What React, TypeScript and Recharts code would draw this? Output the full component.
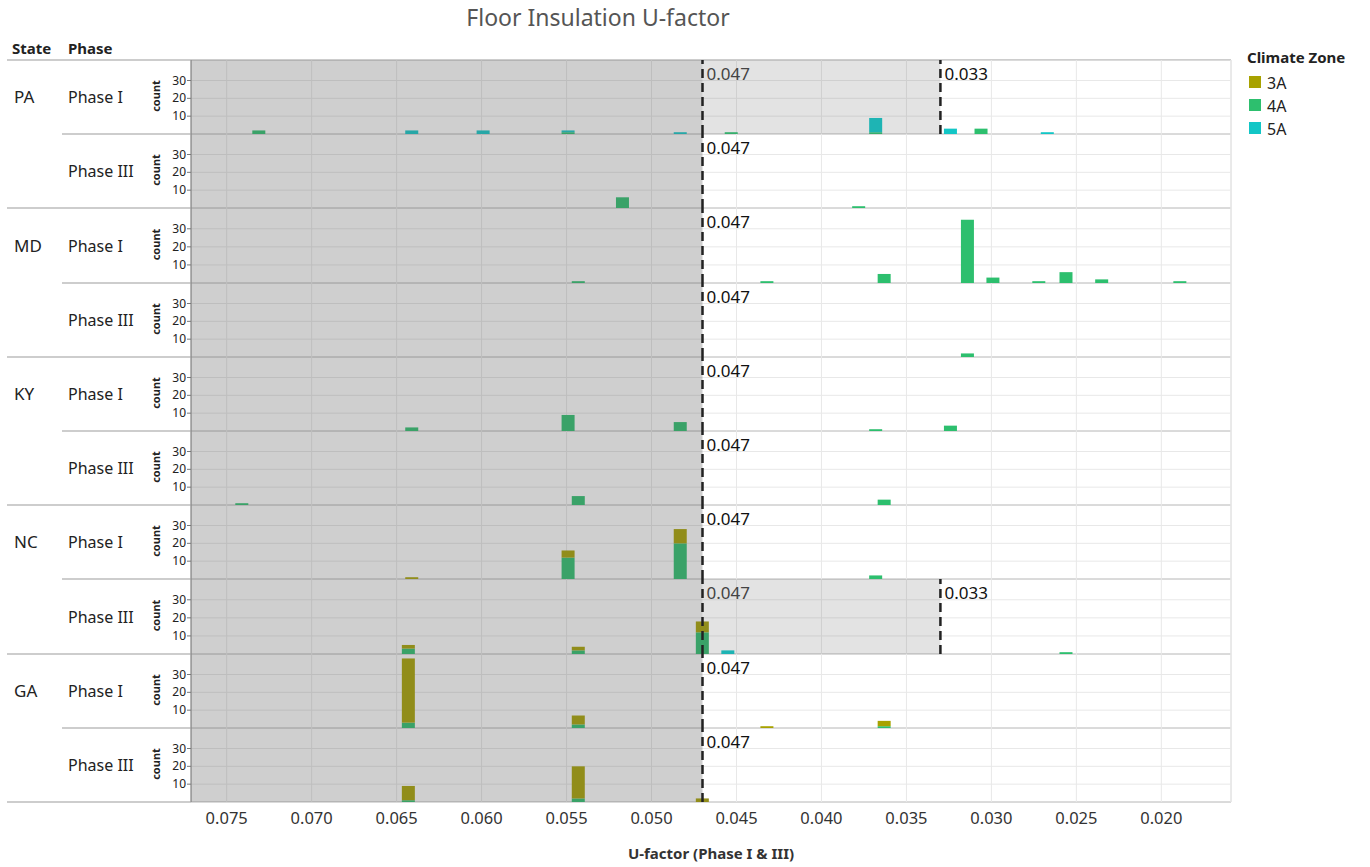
import React from "react";
import {
  BarChart,
  Bar,
  XAxis,
  YAxis,
  CartesianGrid,
  ReferenceArea,
  ReferenceLine,
} from "recharts";

type Row = { u: number; z3A?: number; z4A?: number; z5A?: number };

// counts per U-factor bin
const paPhase1: Row[] = [
  { u: 0.0731, z4A: 2 },
  { u: 0.0641, z5A: 2 },
  { u: 0.0599, z5A: 2 },
  { u: 0.0549, z4A: 1, z5A: 1 },
  { u: 0.0483, z5A: 1 },
  { u: 0.0453, z4A: 1 },
  { u: 0.0368, z4A: 1, z5A: 8 },
  { u: 0.0324, z5A: 3 },
  { u: 0.0306, z4A: 3 },
  { u: 0.0267, z5A: 1 },
];
const paPhase3: Row[] = [
  { u: 0.0517, z4A: 6 },
  { u: 0.0378, z4A: 1 },
];
const mdPhase1: Row[] = [
  { u: 0.0543, z4A: 1 },
  { u: 0.0432, z4A: 1 },
  { u: 0.0363, z4A: 5 },
  { u: 0.0314, z4A: 35 },
  { u: 0.0299, z4A: 3 },
  { u: 0.0272, z4A: 1 },
  { u: 0.0256, z4A: 6 },
  { u: 0.0235, z4A: 2 },
  { u: 0.0189, z4A: 1 },
];
const mdPhase3: Row[] = [{ u: 0.0314, z4A: 2 }];
const kyPhase1: Row[] = [
  { u: 0.0641, z4A: 2 },
  { u: 0.0549, z4A: 9 },
  { u: 0.0483, z4A: 5 },
  { u: 0.0368, z4A: 1 },
  { u: 0.0324, z4A: 3 },
];
const kyPhase3: Row[] = [
  { u: 0.0741, z4A: 1 },
  { u: 0.0543, z4A: 5 },
  { u: 0.0363, z4A: 3 },
];
const ncPhase1: Row[] = [
  { u: 0.0641, z3A: 1 },
  { u: 0.0549, z3A: 4, z4A: 12 },
  { u: 0.0483, z3A: 8, z4A: 20 },
  { u: 0.0368, z4A: 2 },
];
const ncPhase3: Row[] = [
  { u: 0.0643, z3A: 2, z4A: 3 },
  { u: 0.0543, z3A: 2, z4A: 2 },
  { u: 0.047, z3A: 6, z4A: 12 },
  { u: 0.0455, z5A: 2 },
  { u: 0.0256, z4A: 1 },
];
const gaPhase1: Row[] = [
  { u: 0.0643, z3A: 36, z4A: 3 },
  { u: 0.0543, z3A: 5, z4A: 2 },
  { u: 0.0432, z3A: 1 },
  { u: 0.0363, z3A: 3, z4A: 1 },
];
const gaPhase3: Row[] = [
  { u: 0.0643, z3A: 8, z4A: 1 },
  { u: 0.0543, z3A: 18, z4A: 2 },
  { u: 0.047, z3A: 2 },
];

const states = ["PA", "MD", "KY", "NC", "GA"];
const phases = ["Phase I", "Phase III"];
const panelData = [
  paPhase1, paPhase3, mdPhase1, mdPhase3, kyPhase1,
  kyPhase3, ncPhase1, ncPhase3, gaPhase1, gaPhase3,
];
const bandPanels = [0, 7]; // panels with the 0.047-0.033 band

const xTicks = [0.075, 0.07, 0.065, 0.06, 0.055, 0.05, 0.045, 0.04, 0.035, 0.03, 0.025, 0.02];
const yTicks = [10, 20, 30];
const zones = [
  { key: "z4A", name: "4A", color: "#2dbf6e" },
  { key: "z3A", name: "3A", color: "#a8a200" },
  { key: "z5A", name: "5A", color: "#12c6c6" },
];
const legendOrder = ["3A", "4A", "5A"];

const X_DOMAIN: [number, number] = [0.0159, 0.0771];
const Y_DOMAIN: [number, number] = [0, 41.5];
const TOP = 60;
const BOTTOM = 802;
const AXIS_H = 62;
const CHART_LEFT = 150;
const CHART_W = 1082;
const PLOT_RIGHT = 1231;
const FONT = "Noto Sans, Open Sans, sans-serif";

// whole-pixel panel edges
const edges = Array.from({ length: panelData.length + 1 }, (_, i) =>
  Math.round(TOP + (i * (BOTTOM - TOP)) / panelData.length)
);

const MARGIN = { top: 0, right: 1, bottom: 0, left: 0 };
const X_TICK = { fontSize: 16.5, fill: "#333", fontFamily: FONT };
const AXIS_STROKE = { stroke: "#777" };
const X_LABEL = {
  value: "U-factor (Phase I & III)",
  position: "insideBottom" as const,
  offset: 5,
  style: { fontSize: 15, fontWeight: 700, fill: "#333", fontFamily: FONT },
};
const fmtX = (v: number) => v.toFixed(3);

function CountTick(props: any) {
  const { x, y, payload } = props;
  return (
    <text x={x} y={y} dy={4} textAnchor="end" fontSize={12} fill="#222" fontFamily={FONT}>
      {payload.value}
    </text>
  );
}
const countTick = <CountTick />;

// every panel gets the same bin list so a single-bin panel still gets a band size
const allU = Array.from(new Set(panelData.flatMap((d) => d.map((r) => r.u)))).sort(
  (a, b) => a - b
);
const buildTable = (rows: Row[]) =>
  allU.map((u) => {
    const r = rows.find((d) => d.u === u);
    return { u, z3A: r?.z3A ?? 0, z4A: r?.z4A ?? 0, z5A: r?.z5A ?? 0 };
  });
const tables = panelData.map(buildTable);

// shaded regions sit under the bars, so darken the bars inside them
const blend = (hex: string, a: number) => {
  const n = parseInt(hex.slice(1), 16);
  const ch = [(n >> 16) & 255, (n >> 8) & 255, n & 255].map((c) =>
    Math.round(c * (1 - a) + 90 * a)
  );
  return `rgb(${ch.join(",")})`;
};

const makeShape = (color: string, band: boolean) => (p: any) => {
  const { x, y, width, height, payload } = p;
  if (!height || height <= 0 || !isFinite(x) || !isFinite(y)) return <g />;
  const cx = x + (width || 0) / 2;
  const u = payload.u;
  const alpha = u >= 0.047 ? 0.29 : band && u > 0.033 ? 0.17 : 0;
  return <rect x={cx - 6.5} y={y} width={13} height={height} fill={blend(color, alpha)} />;
};
const shapes = panelData.map((_, i) =>
  zones.map((z) => makeShape(z.color, bandPanels.includes(i)))
);

function RefText(props: any) {
  const vb = props.viewBox || {};
  if (!isFinite(vb.x)) return null;
  return (
    <text x={vb.x + 4} y={vb.y + 20} fontSize={17} fill={props.color} fontFamily={FONT}>
      {props.text}
    </text>
  );
}
const label047Band = <RefText text="0.047" color="#444" />;
const label047 = <RefText text="0.047" color="#111" />;
const label033 = <RefText text="0.033" color="#111" />;

function Panel({ idx }: { idx: number }) {
  const last = idx === panelData.length - 1;
  const band = bandPanels.includes(idx);
  const h = edges[idx + 1] - edges[idx];
  return (
    <div style={{ position: "absolute", left: CHART_LEFT, top: edges[idx] }}>
      <BarChart
        width={CHART_W}
        height={h + (last ? AXIS_H : 0)}
        data={tables[idx]}
        margin={MARGIN}
      >
        <CartesianGrid stroke="#e8e8e8" />
        {last ? (
          <XAxis
            type="number"
            dataKey="u"
            domain={X_DOMAIN}
            reversed
            ticks={xTicks}
            interval={0}
            allowDataOverflow
            height={AXIS_H}
            tickLine={false}
            axisLine={false}
            tickMargin={4}
            tickFormatter={fmtX}
            tick={X_TICK}
            label={X_LABEL}
          />
        ) : (
          <XAxis
            type="number"
            dataKey="u"
            domain={X_DOMAIN}
            reversed
            ticks={xTicks}
            interval={0}
            allowDataOverflow
            hide
          />
        )}
        <YAxis
          type="number"
          domain={Y_DOMAIN}
          ticks={yTicks}
          interval={0}
          allowDataOverflow
          width={41}
          tickSize={4}
          tickMargin={1}
          axisLine={AXIS_STROKE}
          tickLine={AXIS_STROKE}
          tick={countTick}
        />
        <ReferenceArea x1={X_DOMAIN[1]} x2={0.047} fill="#5a5a5a" fillOpacity={0.29} />
        {band && <ReferenceArea x1={0.047} x2={0.033} fill="#5a5a5a" fillOpacity={0.17} />}
        {zones.map((z, k) => (
          <Bar
            key={z.key}
            dataKey={z.key}
            name={z.name}
            stackId="a"
            barSize={13}
            fill={z.color}
            shape={shapes[idx][k]}
            isAnimationActive={false}
          />
        ))}
        <ReferenceLine
          x={0.047}
          stroke="#222"
          strokeWidth={2.5}
          strokeDasharray="9 5"
          label={band ? label047Band : label047}
        />
        {band && (
          <ReferenceLine
            x={0.033}
            stroke="#222"
            strokeWidth={2.5}
            strokeDasharray="9 5"
            label={label033}
          />
        )}
      </BarChart>
    </div>
  );
}

const colorOf = (name: string) => zones.find((z) => z.name === name)!.color;

export default function App() {
  return (
    <div
      style={{
        position: "absolute",
        left: 0,
        top: 0,
        width: 1370,
        height: 867,
        background: "#fff",
        fontFamily: FONT,
      }}
    >
      <svg width={1370} height={867} style={{ position: "absolute", left: 0, top: 0 }}>
        <text x={598} y={26} textAnchor="middle" fontSize={23} fill="#555">
          Floor Insulation U-factor
        </text>
        <text x={12} y={54} fontSize={15} fontWeight={700} fill="#222">
          State
        </text>
        <text x={68} y={54} fontSize={15} fontWeight={700} fill="#222">
          Phase
        </text>
        {edges.map((y, i) => (
          <line
            key={"sep" + i}
            x1={i % 2 === 0 ? 7 : 62}
            x2={PLOT_RIGHT}
            y1={y}
            y2={y}
            stroke="#cdcdcd"
            strokeWidth={2}
          />
        ))}
        <line x1={PLOT_RIGHT} x2={PLOT_RIGHT} y1={TOP} y2={BOTTOM} stroke="#d6d6d6" />
        {panelData.map((_, i) => {
          const cy = (edges[i] + edges[i + 1]) / 2;
          return (
            <g key={"lab" + i}>
              {i % 2 === 0 && (
                <text x={14} y={cy + 6} fontSize={17} fill="#222">
                  {states[i / 2]}
                </text>
              )}
              <text x={68} y={cy + 6} fontSize={16} fill="#222">
                {phases[i % 2]}
              </text>
              <text
                x={160}
                y={cy - 1}
                transform={`rotate(-90 160 ${cy - 1})`}
                textAnchor="middle"
                fontSize={11}
                fontWeight={700}
                fill="#222"
              >
                count
              </text>
            </g>
          );
        })}
        <text x={1247} y={63} fontSize={15} fontWeight={700} fill="#222">
          Climate Zone
        </text>
        {legendOrder.map((name, i) => (
          <g key={name}>
            <rect x={1249} y={76 + i * 23} width={12} height={12} fill={colorOf(name)} />
            <text x={1267} y={89 + i * 23} fontSize={16} fill="#222">
              {name}
            </text>
          </g>
        ))}
      </svg>
      {panelData.map((_, i) => (
        <Panel key={i} idx={i} />
      ))}
    </div>
  );
}
